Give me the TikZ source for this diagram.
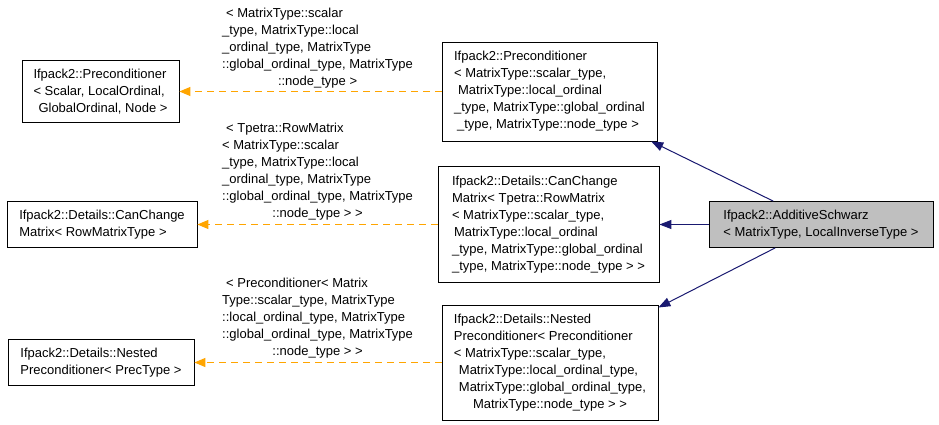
\documentclass[tikz,border=0pt]{standalone}
\usepackage{fontspec}
\setmainfont{Liberation Sans}
\usetikzlibrary{arrows.meta}
\definecolor{edgeblue}{RGB}{25,25,112}
\definecolor{edgeorange}{RGB}{255,165,0}
\newlength\lblwd
\newcommand\midline[2]{\settowidth\lblwd{#1}\makebox[\lblwd]{#2}}

\begin{document}
\begin{tikzpicture}[x = 1pt, y = -1pt, font = \fontsize{13}{17}\selectfont,
	cls/.style = {draw, line width = 0.8pt, align = left, inner sep = 0pt},
	this/.style = {cls, fill = black!25},
	lbl/.style = {align = left, inner sep = 0pt, anchor = north west},
	inh/.style = {edgeblue, line width = 1pt, -{Triangle[length = 12pt, width = 9pt]}},
	tmpl/.style = {edgeorange, line width = 1.2pt, dash pattern = on 7pt off 5pt, -{Triangle[length = 11pt, width = 9pt]}}]%AdditiveSchwarz
	\useasboundingbox (0,0) rectangle (939,425);
	\node[this, minimum width = 224pt, minimum height = 46pt] (AS) at (821,224.5)
	{Ifpack2::AdditiveSchwarz\\< MatrixType, LocalInverseType >};
	\node[cls, minimum width = 215pt, minimum height = 99pt] (PrecT) at (549.5,91.5)
	{Ifpack2::Preconditioner\\< MatrixType::scalar\_type,\\\hspace*{4pt}MatrixType::local\_ordinal\\\_type, MatrixType::global\_ordinal\\\hspace*{3pt}\_type, MatrixType::node\_type >};
	\node[cls, minimum width = 221pt, minimum height = 116pt] (CanChgT) at (548.5,224.5)
	{Ifpack2::Details::CanChange\\Matrix< Tpetra::RowMatrix\\< MatrixType::scalar\_type,\\\hspace*{2pt}MatrixType::local\_ordinal\\\_type, MatrixType::global\_ordinal\\\_type, MatrixType::node\_type > >};
	\node[cls, minimum width = 216pt, minimum height = 115pt] (NestT) at (550,362.5)
	{Ifpack2::Details::Nested\\Preconditioner< Preconditioner\\< MatrixType::scalar\_type,\\\hspace*{5pt}MatrixType::local\_ordinal\_type,\\\hspace*{5pt}MatrixType::global\_ordinal\_type,\\\midline{\hspace*{5pt}MatrixType::global\_ordinal\_type,}{MatrixType::node\_type > >}};
	\node[cls, minimum width = 157pt, minimum height = 62pt] (Prec) at (100.5,91.5)
	{Ifpack2::Preconditioner\\< Scalar, LocalOrdinal,\\\hspace*{5pt}GlobalOrdinal, Node >};
	\node[cls, minimum width = 190pt, minimum height = 46pt] (CanChg) at (102,224.5)
	{Ifpack2::Details::CanChange\\Matrix< RowMatrixType >};
	\node[cls, minimum width = 186pt, minimum height = 46pt] (Nest) at (101,362.5)
	{Ifpack2::Details::Nested\\Preconditioner< PrecType >};
	\node[lbl] (PrecL) at (222,8)
	{\hspace*{4pt}< MatrixType::scalar\\\_type, MatrixType::local\\\_ordinal\_type, MatrixType\\::global\_ordinal\_type, MatrixType\\\midline{::global\_ordinal\_type, MatrixType}{::node\_type >}};
	\node[lbl] (CanChgL) at (222,122.5)
	{\hspace*{4pt}< Tpetra::RowMatrix\\< MatrixType::scalar\\\_type, MatrixType::local\\\_ordinal\_type, MatrixType\\::global\_ordinal\_type, MatrixType\\\midline{::global\_ordinal\_type, MatrixType}{::node\_type > >}};
	\node[lbl] (NestL) at (222,278)
	{\hspace*{4pt}< Preconditioner< Matrix\\Type::scalar\_type, MatrixType\\::local\_ordinal\_type, MatrixType\\::global\_ordinal\_type, MatrixType\\\midline{::global\_ordinal\_type, MatrixType}{::node\_type > >}};
	\draw[inh] (AS) -- (PrecT);
	\draw[inh] (AS) -- (CanChgT);
	\draw[inh] (AS) -- (NestT);
	\draw[tmpl] (PrecT.west) -- (Prec.east);
	\draw[tmpl] (CanChgT.west) -- (CanChg.east);
	\draw[tmpl] (NestT.west) -- (Nest.east);
\end{tikzpicture}
\end{document}
